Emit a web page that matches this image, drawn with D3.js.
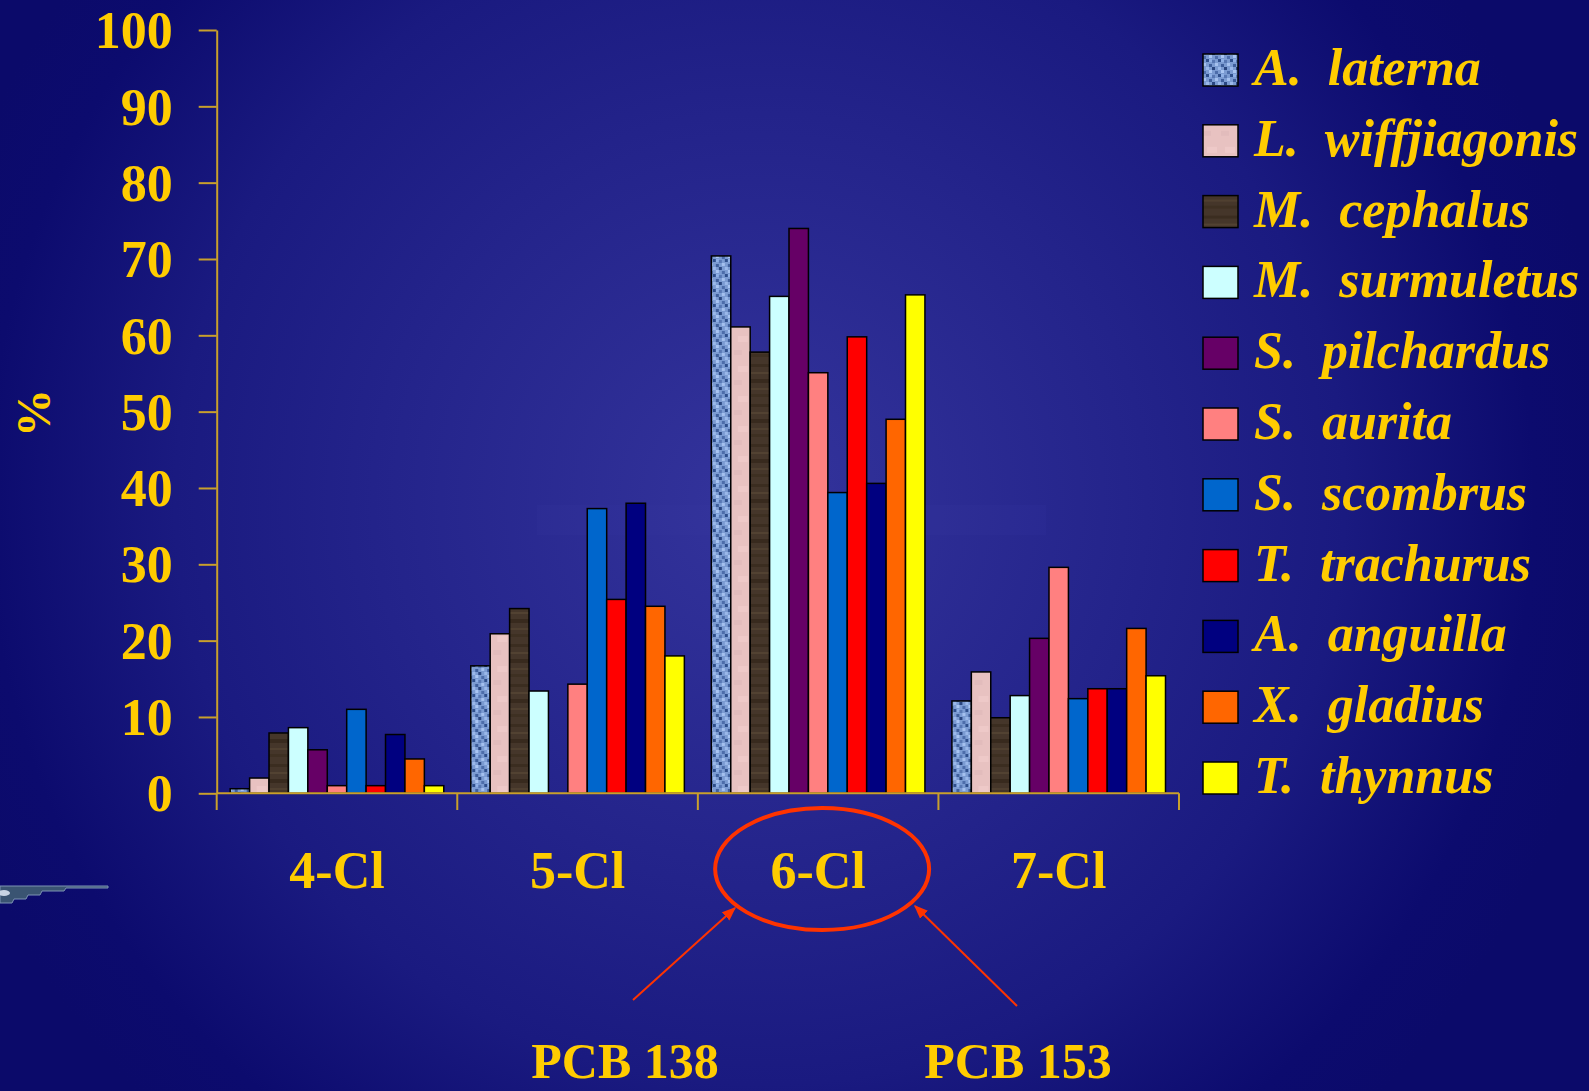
<!DOCTYPE html>
<html>
<head>
<meta charset="utf-8">
<script src="https://cdn.jsdelivr.net/npm/d3@7"></script>
<style>
  body { margin: 0; background: #0b0a6a; }
  svg { display: block; }
</style>
</head>
<body>
<svg width="1589" height="1091"></svg>
<script>
// PCB homologue profile per species (% of total)
const categories = ["4-Cl", "5-Cl", "6-Cl", "7-Cl"]
const species = ["A. laterna", "L. wiffjiagonis", "M. cephalus", "M. surmuletus", "S. pilchardus",
    "S. aurita", "S. scombrus", "T. trachurus", "A. anguilla", "X. gladius", "T. thynnus"]
const cl4 = [0.6, 2.0, 7.9, 8.6, 5.7, 1.0, 11.0, 1.0, 7.7, 4.5, 1.0]
const cl5 = [16.7, 20.9, 24.2, 13.4, 0, 14.3, 37.3, 25.4, 38.0, 24.5, 18.0]
const cl6 = [70.4, 61.1, 57.8, 65.1, 74.0, 55.1, 39.4, 59.8, 40.6, 49.0, 65.3]
const cl7 = [12.1, 15.9, 9.9, 12.8, 20.3, 29.6, 12.4, 13.7, 13.7, 21.6, 15.4]
const yTicks = [0, 10, 20, 30, 40, 50, 60, 70, 80, 90, 100]
const notes = ["PCB 138", "PCB 153"]

const colors = ["url(#granite)", "url(#marble)", "url(#wood)", "#ccffff", "#660066",
    "#ff8080", "#0066cc", "#ff0000", "#000080", "#ff6600", "#ffff00"]
const yellow = "#ffcc00"
const axisColor = "#c9a02c"
const serif = "'Liberation Serif', 'Times New Roman', serif"

const rows = categories.map((c, i) => ({ cat: c, vals: [cl4, cl5, cl6, cl7][i] }))

const svg = d3.select("svg")
const defs = svg.append("defs")

// background
const bg = defs.append("radialGradient").attr("id", "bg")
    .attr("gradientUnits", "userSpaceOnUse")
    .attr("cx", 760).attr("cy", 500).attr("r", 860)
bg.selectAll("stop")
    .data([[0, "#34349c"], [0.45, "#23238a"], [0.68, "#1a1a80"], [0.9, "#0c0b6e"], [1, "#0b0a6a"]])
    .enter().append("stop")
    .attr("offset", d => d[0]).attr("stop-color", d => d[1])

// textures for the first three species
const granite = defs.append("pattern").attr("id", "granite")
    .attr("patternUnits", "userSpaceOnUse").attr("width", 12).attr("height", 15)
granite.append("rect").attr("width", 12).attr("height", 15).attr("fill", "#7b9bd2")
const specks = [[0, 1, "#4d6daa"], [6, 0, "#a9c5f2"], [3, 4, "#2f4f8c"], [9, 5, "#5878b4"],
    [0, 8, "#a4c0ee"], [6, 9, "#3f5f9c"], [3, 12, "#9ab8ea"], [9, 12, "#2a4680"], [6, 4, "#8fb0e6"]]
granite.selectAll("rect.s").data(specks).enter().append("rect").attr("class", "s")
    .attr("x", d => d[0]).attr("y", d => d[1]).attr("width", 3).attr("height", 3)
    .attr("fill", d => d[2])

const marble = defs.append("pattern").attr("id", "marble")
    .attr("patternUnits", "userSpaceOnUse").attr("width", 18).attr("height", 30)
marble.append("rect").attr("width", 18).attr("height", 30).attr("fill", "#e8c2c1")
marble.append("rect").attr("x", 4).attr("y", 6).attr("width", 10).attr("height", 6).attr("fill", "#eec9c8")
marble.append("rect").attr("x", 0).attr("y", 20).attr("width", 8).attr("height", 5).attr("fill", "#e2bcbc")

const wood = defs.append("pattern").attr("id", "wood")
    .attr("patternUnits", "userSpaceOnUse").attr("width", 20).attr("height", 40)
wood.append("rect").attr("width", 20).attr("height", 40).attr("fill", "#45362a")
wood.selectAll("rect.g")
    .data([[4, 3, "#3b2d20"], [12, 2, "#524232"], [19, 4, "#382a1e"], [28, 2, "#504030"], [34, 3, "#3e3022"]])
    .enter().append("rect").attr("class", "g")
    .attr("y", d => d[0]).attr("width", 20).attr("height", d => d[1]).attr("fill", d => d[2])

defs.append("marker").attr("id", "arrow")
    .attr("viewBox", "0 0 10 10").attr("refX", 9).attr("refY", 5)
    .attr("markerWidth", 7).attr("markerHeight", 7).attr("orient", "auto")
    .append("path").attr("d", "M0,1 L10,5 L0,9 Z").attr("fill", "#ff3300")

svg.append("rect").attr("width", 1589).attr("height", 1091).attr("fill", "url(#bg)")
svg.append("rect").attr("x", 537).attr("y", 505).attr("width", 509).attr("height", 30)
    .attr("fill", "#3a3aa0").attr("opacity", 0.18)

// small leftover graphic on the left edge
svg.append("path")
    .attr("d", "M0,886 L108,886 L108,888 L66,888 L64,891 L42,891 L40,895 L28,895 L26,899 L14,899 L12,903 L0,903 Z")
    .attr("fill", "#3a5472").attr("stroke", "#7d93b3").attr("stroke-width", 1)
svg.append("ellipse").attr("cx", 4).attr("cy", 893).attr("rx", 6).attr("ry", 3).attr("fill", "#c8d4e4")

// scales
const x0 = d3.scaleBand().domain(categories).range([216.7, 1179]).padding(0)
const x1 = d3.scaleBand().domain(species).range([13.5, x0.bandwidth() - 13.5]).padding(0)
const y = d3.scaleLinear().domain([0, 100]).range([793.3, 30])

// y axis
const yAxis = svg.append("g").attr("transform", "translate(216.7,0)")
    .call(d3.axisLeft(y).tickValues(yTicks).tickSize(18).tickSizeOuter(0).tickPadding(26))
yAxis.select(".domain").attr("stroke", axisColor).attr("stroke-width", 2)
yAxis.selectAll(".tick line").attr("stroke", axisColor).attr("stroke-width", 2)
yAxis.selectAll(".tick text")
    .attr("fill", yellow).attr("font-family", serif).attr("font-weight", "bold")
    .attr("font-size", 52).attr("dy", "0.34em")

svg.append("line").attr("x1", 216.7).attr("x2", 216.7).attr("y1", y(0)).attr("y2", 810)
    .attr("stroke", axisColor).attr("stroke-width", 2)

svg.append("text")
    .attr("transform", "translate(50,413) rotate(-90)")
    .attr("text-anchor", "middle")
    .attr("fill", yellow).attr("font-family", serif).attr("font-weight", "bold").attr("font-size", 48)
    .text("%")

// bars
const groups = svg.selectAll("g.grp").data(rows).enter().append("g").attr("class", "grp")
    .attr("transform", d => `translate(${x0(d.cat)},0)`)
groups.selectAll("rect")
    .data(d => d.vals.map((v, i) => ({ sp: species[i], v, c: colors[i] })).filter(e => e.v > 0))
    .enter().append("rect")
    .attr("x", d => x1(d.sp))
    .attr("y", d => y(d.v))
    .attr("width", x1.bandwidth())
    .attr("height", d => y(0) - y(d.v))
    .attr("fill", d => d.c)
    .attr("stroke", "#000").attr("stroke-width", 1.5)

// x axis
svg.append("line").attr("x1", 216.7).attr("x2", 1179).attr("y1", y(0)).attr("y2", y(0))
    .attr("stroke", axisColor).attr("stroke-width", 2)
const bounds = categories.map(c => x0(c)).concat([x0.range()[1]])
svg.selectAll("line.xt").data(bounds.slice(1)).enter().append("line").attr("class", "xt")
    .attr("x1", d => d).attr("x2", d => d).attr("y1", y(0)).attr("y2", 810)
    .attr("stroke", axisColor).attr("stroke-width", 2)
svg.selectAll("text.cat").data(categories).enter().append("text").attr("class", "cat")
    .attr("x", d => x0(d) + x0.bandwidth() / 2).attr("y", 888)
    .attr("text-anchor", "middle")
    .attr("fill", yellow).attr("font-family", serif).attr("font-weight", "bold").attr("font-size", 52)
    .text(d => d)

// legend
const legend = svg.selectAll("g.leg").data(species).enter().append("g").attr("class", "leg")
    .attr("transform", (d, i) => `translate(1203,${70 + i * 70.8})`)
legend.append("rect").attr("x", 0).attr("y", -16).attr("width", 35).attr("height", 32)
    .attr("fill", (d, i) => colors[i]).attr("stroke", "#000").attr("stroke-width", 1.5)
legend.append("text").attr("x", 51).attr("y", 15)
    .attr("fill", yellow).attr("font-family", serif).attr("font-weight", "bold")
    .attr("font-style", "italic").attr("font-size", 52)
    .attr("xml:space", "preserve")
    .text(d => d.replace(". ", ".  "))

// 6-Cl highlight
const cx6 = x0("6-Cl") + x0.bandwidth() / 2
svg.append("ellipse").attr("cx", cx6 + 4).attr("cy", 869).attr("rx", 107).attr("ry", 61)
    .attr("fill", "none").attr("stroke", "#ff3300").attr("stroke-width", 4)
const arrows = [[633, 1000, 735, 908], [1017, 1006, 915, 906]]
svg.selectAll("line.arr").data(arrows).enter().append("line").attr("class", "arr")
    .attr("x1", d => d[0]).attr("y1", d => d[1]).attr("x2", d => d[2]).attr("y2", d => d[3])
    .attr("stroke", "#ff3300").attr("stroke-width", 2).attr("marker-end", "url(#arrow)")
svg.selectAll("text.note").data(notes).enter().append("text").attr("class", "note")
    .attr("x", (d, i) => [625, 1018][i]).attr("y", 1078)
    .attr("text-anchor", "middle")
    .attr("fill", yellow).attr("font-family", serif).attr("font-weight", "bold").attr("font-size", 50)
    .text(d => d)
</script>
</body>
</html>
